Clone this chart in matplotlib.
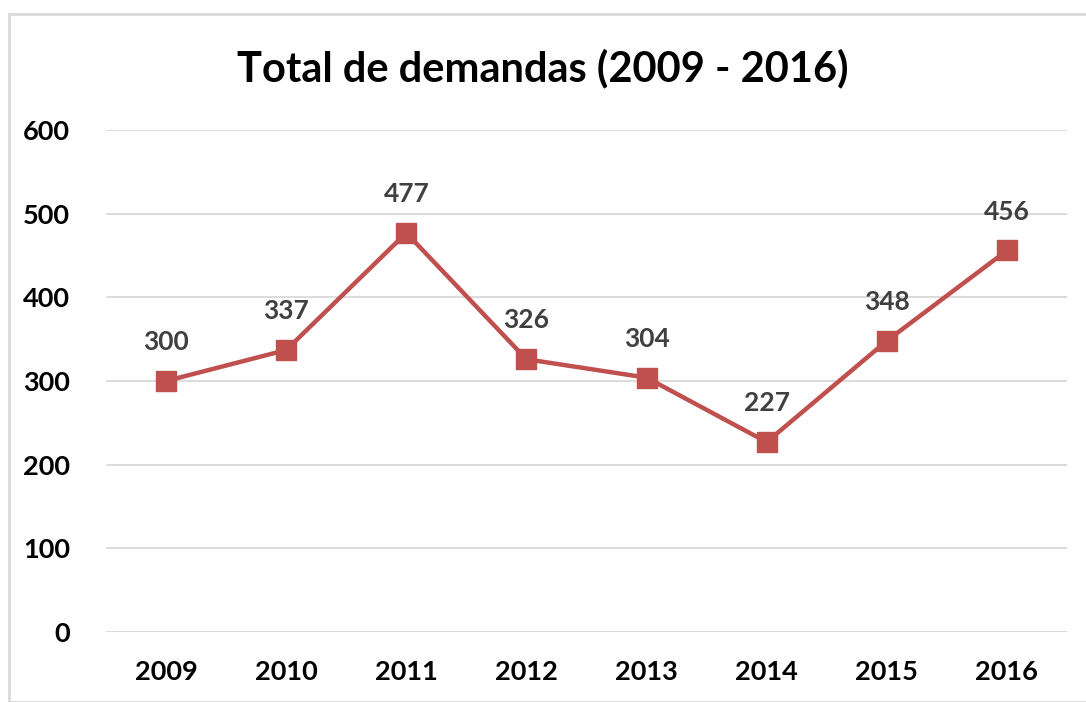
import matplotlib
matplotlib.use('agg')
import matplotlib.pyplot as plt
from matplotlib.patches import Rectangle

years = ['2009', '2010', '2011', '2012', '2013', '2014', '2015', '2016']
demandas = [300, 337, 477, 326, 304, 227, 348, 456]
yticks = [0, 100, 200, 300, 400, 500, 600]

plt.rcParams['font.family'] = ['Lato', 'DejaVu Sans']

W, H = 1086, 702
fig = plt.figure(figsize=(W / 100, H / 100), dpi=100)

# light gray chart frame
fig.patches.append(Rectangle((9 / W, 0), 1.2, 1 - 14 / H, transform=fig.transFigure,
                             fill=False, edgecolor='#d9d9d9', linewidth=2))

ax = fig.add_axes([106 / W, 1 - 632 / H, (1067 - 106) / W, (632 - 130) / H])
x = list(range(len(years)))
ax.plot(x, demandas, color='#c0504d', linewidth=3.2, marker='s', markersize=14.5,
        zorder=3)
for xi, v in zip(x, demandas):
    ax.annotate(str(v), (xi, v), xytext=(0, 28), textcoords='offset points',
                ha='center', va='center', color='#404040',
                fontsize=19, fontweight='bold')

ax.set_xlim(-0.5, len(years) - 0.5)
ax.set_ylim(0, 600)
ax.set_yticks(yticks)
ax.set_xticks(x)
ax.set_xticklabels(years)
ax.grid(axis='y', color='#d9d9d9', linewidth=1.3)
ax.set_axisbelow(True)
for s in ax.spines.values():
    s.set_visible(False)
ax.tick_params(length=0, labelsize=19.5)
for lbl in ax.get_xticklabels() + ax.get_yticklabels():
    lbl.set_fontweight('bold')
ax.tick_params(axis='y', pad=26)
ax.tick_params(axis='x', pad=20)

fig.text(0.5, 1 - 68 / H, 'Total de demandas (2009 - 2016)', ha='center', va='center',
         fontsize=30, fontweight='bold')

fig.savefig('out.png', dpi=100)
